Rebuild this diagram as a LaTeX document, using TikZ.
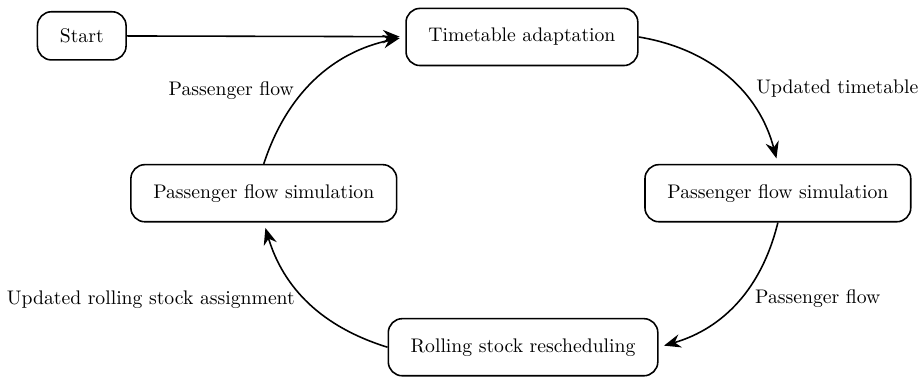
\documentclass[tikz,border=0pt]{standalone}
\usetikzlibrary{arrows.meta}

\begin{document}
\begin{tikzpicture}[
    box/.style={draw, thick, rounded corners=0.25cm, minimum height=1.02cm, inner xsep=0.4cm},
    flow/.style={thick, -{Stealth[length=3mm, width=2.4mm, inset=1mm]}, shorten >=0.1cm}]
    \useasboundingbox (0,0) rectangle (16.41,6.77);
    \node[box, minimum height=0.86cm] (start) at (1.46,6.13) {Start};
    \node[box] (adapt) at (9.32,6.11) {Timetable adaptation};
    \node[box] (simR) at (13.89,3.32) {Passenger flow simulation};
    \node[box] (resched) at (9.34,0.57) {Rolling stock rescheduling};
    \node[box] (simL) at (4.71,3.32) {Passenger flow simulation};
    \draw[flow] (start) -- (adapt);
    \draw[flow] (adapt.east) to[bend left=33] node[pos=0.58, right=5pt] {Updated timetable} (simR.north);
    \draw[flow] (simR.south) to[bend left=30] node[pos=0.47, right=4pt] {Passenger flow} (resched.east);
    \draw[flow] (resched.west) to[bend left=28] node[pos=0.52, left=2pt] {Updated rolling stock assignment} (simL.south);
    \draw[flow] (simL.north) to[bend left=30] node[pos=0.42, left=2pt] {Passenger flow} (adapt.west);
    \end{tikzpicture}
\end{document}
